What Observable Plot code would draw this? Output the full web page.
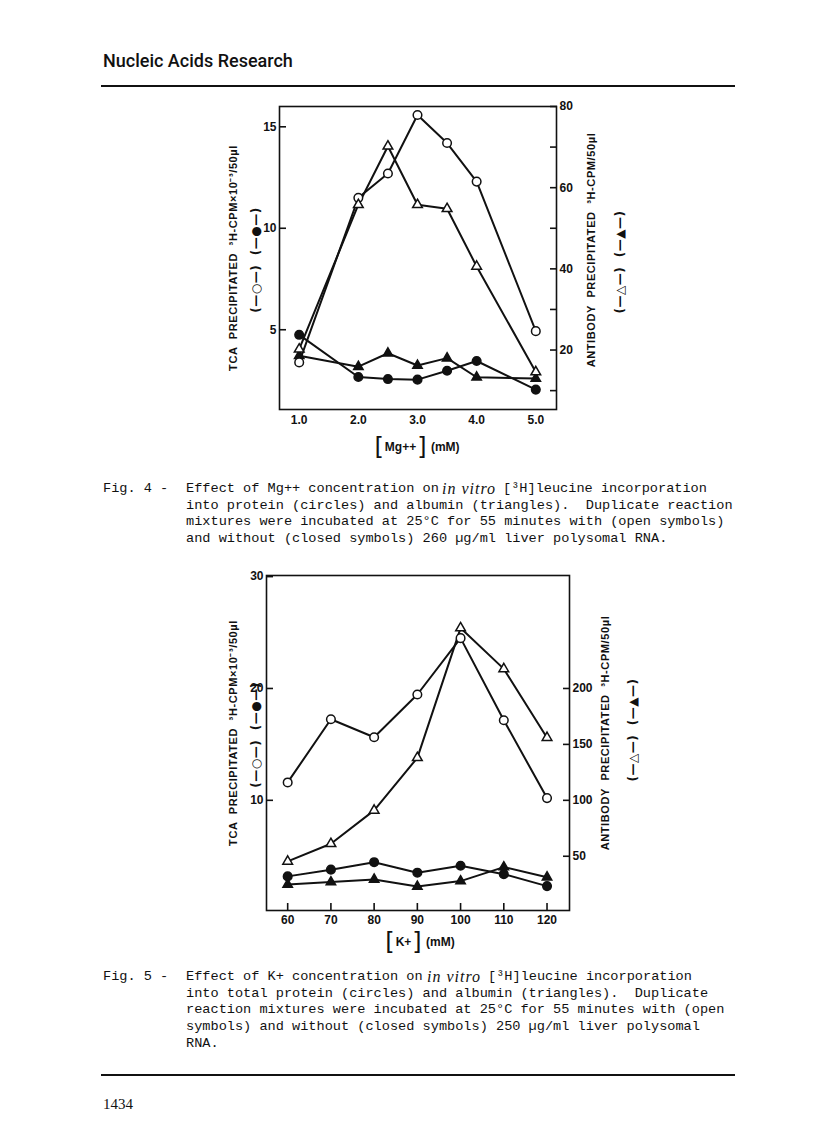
<!DOCTYPE html>
<html><head><meta charset="utf-8">
<script src="https://cdn.jsdelivr.net/npm/d3@7"></script>
<script src="https://cdn.jsdelivr.net/npm/@observablehq/plot@0.6"></script>
<style>
body{margin:0;background:#fff;}
#page{position:relative;width:816px;height:1146px;overflow:hidden;font-family:"Liberation Sans",sans-serif;color:#111;}
.abs{position:absolute;}
.rule{position:absolute;left:101px;width:634px;height:2px;background:#111;}
.cap{position:absolute;font-family:"Liberation Mono",monospace;font-size:13.6px;line-height:16.7px;white-space:pre;color:#111;}
.iv{position:absolute;font-family:"Liberation Serif",serif;font-style:italic;font-size:16px;letter-spacing:1px;line-height:16.7px;white-space:pre;color:#111;}
.rot{position:absolute;transform:translate(-50%,-50%) rotate(-90deg);white-space:nowrap;font-weight:bold;font-size:11px;letter-spacing:0.6px;word-spacing:4px;}
.sym{font-family:"DejaVu Sans",sans-serif;font-weight:bold;font-size:12px;letter-spacing:0.5px;word-spacing:5px;}
.xt{position:absolute;transform:translate(-50%,-50%);display:flex;align-items:center;gap:1px;white-space:nowrap;font-weight:bold;font-size:12px;}
.br{font-size:24px;font-weight:normal;font-family:"DejaVu Sans",sans-serif;}
.chart{position:absolute;}
</style></head>
<body><div id="page">
<div class="abs" style="left:103px;top:50px;font-family:Roboto,'Liberation Sans',sans-serif;font-weight:500;font-size:18px;">Nucleic Acids Research</div>
<div class="rule" style="top:85px;"></div>

<div id="c1" class="chart" style="left:180px;top:96px;"></div>
<div class="rot" style="left:232px;top:258px;">TCA PRECIPITATED ³H-CPM×10⁻³/50µl</div>
<div class="rot sym" style="left:256px;top:260px;">(—○—) (—●—)</div>
<div class="rot" style="left:591px;top:250px;">ANTIBODY PRECIPITATED ³H-CPM/50µl</div>
<div class="rot sym" style="left:620px;top:262px;">(—△—) (—▲—)</div>
<div class="xt" style="left:417px;top:447px;"><span class="br">[</span><span>Mg++</span><span class="br">]</span><span>&nbsp;(mM)</span></div>

<div class="cap" style="left:103px;top:481px;">Fig. 4 -</div>
<div class="cap" style="left:186px;top:481px;">Effect of Mg++ concentration on</div>
<div class="iv" style="left:442px;top:481px;">in vitro</div>
<div class="cap" style="left:503px;top:481px;">[³H]leucine incorporation</div>
<div class="cap" style="left:186px;top:497.7px;">into protein (circles) and albumin (triangles).  Duplicate reaction</div>
<div class="cap" style="left:186px;top:514.4px;">mixtures were incubated at 25°C for 55 minutes with (open symbols)</div>
<div class="cap" style="left:186px;top:531.1px;">and without (closed symbols) 260 µg/ml liver polysomal RNA.</div>

<div id="c2" class="chart" style="left:180px;top:565px;"></div>
<div class="rot" style="left:232px;top:733px;">TCA PRECIPITATED ³H-CPM×10⁻³/50µl</div>
<div class="rot sym" style="left:256px;top:735px;">(—○—) (—●—)</div>
<div class="rot" style="left:605px;top:733px;">ANTIBODY PRECIPITATED ³H-CPM/50µl</div>
<div class="rot sym" style="left:633px;top:730px;">(—△—) (—▲—)</div>
<div class="xt" style="left:420px;top:942px;"><span class="br">[</span><span>K+</span><span class="br">]</span><span>&nbsp;(mM)</span></div>

<div class="cap" style="left:103px;top:969px;">Fig. 5 -</div>
<div class="cap" style="left:186px;top:969px;">Effect of K+ concentration on</div>
<div class="iv" style="left:427px;top:969px;">in vitro</div>
<div class="cap" style="left:488px;top:969px;">[³H]leucine incorporation</div>
<div class="cap" style="left:186px;top:985.7px;">into total protein (circles) and albumin (triangles).  Duplicate</div>
<div class="cap" style="left:186px;top:1002.4px;">reaction mixtures were incubated at 25°C for 55 minutes with (open</div>
<div class="cap" style="left:186px;top:1019.1px;">symbols) and without (closed symbols) 250 µg/ml liver polysomal</div>
<div class="cap" style="left:186px;top:1035.8px;">RNA.</div>

<div class="rule" style="top:1074px;"></div>
<div class="abs" style="left:103px;top:1096px;font-family:'Liberation Serif',serif;font-size:15px;">1434</div>
</div>
<script>
// ---- Fig. 4 data (Mg++) ----
const mgX = [1.0, 2.0, 2.5, 3.0, 3.5, 4.0, 5.0];
const mgTcaOpen = [3.39, 11.5, 12.7, 15.58, 14.2, 12.3, 4.93];
const mgTcaClosed = [4.75, 2.67, 2.57, 2.54, 2.98, 3.46, 2.05];
const mgAbOpen = [20.2, 55.8, 70.2, 55.8, 54.8, 40.6, 14.6];
const mgAbClosed = [18.6, 15.9, 19.2, 16.2, 18.0, 13.3, 13.0];
const mgXTicks = [1, 2, 3, 4, 5];
const mgLeftTicks = [5, 10, 15];
const mgRightTicks = [10, 20, 30, 40, 50, 60, 70, 80];
const mgRightLabels = [20, 40, 60, 80];

// ---- Fig. 5 data (K+) ----
const kX = [60, 70, 80, 90, 100, 110, 120];
const kTcaOpen = [11.6, 17.25, 15.64, 19.46, 24.5, 17.16, 10.2];
const kTcaClosed = [3.2, 3.8, 4.47, 3.53, 4.15, 3.4, 2.33];
const kAbOpen = [45.4, 61.2, 91, 138, 254, 217.5, 156];
const kAbClosed = [24.8, 26.9, 29.3, 23, 27.8, 40.3, 31.3];
const kXTicks = [60, 70, 80, 90, 100, 110, 120];
const kLeftTicks = [10, 20, 30];
const kRightTicks = [50, 100, 150, 200];
const kRightLabels = [50, 100, 150, 200];

function makeChart(c) {
  const rows = (xs, ys, div) => xs.map((x, i) => ({x, y: ys[i] / div}));
  const tO = rows(c.x, c.tcaOpen, 1), tC = rows(c.x, c.tcaClosed, 1);
  const aO = rows(c.x, c.abOpen, c.ratio), aC = rows(c.x, c.abClosed, c.ratio);
  const lw = 2;
  return Plot.plot({
    width: c.width, height: c.height,
    marginLeft: c.ml, marginRight: c.mr, marginTop: c.mt, marginBottom: c.mb,
    x: {domain: c.xDomain},
    y: {domain: c.yDomain},
    style: {background: "transparent", color: "#111", fontFamily: "'Liberation Sans', sans-serif", overflow: "visible"},
    marks: [
      Plot.frame({stroke: "#111", strokeWidth: 1.6}),
      Plot.axisX({ticks: c.xTicks, tickFormat: c.xFormat, tickSize: c.xTickSize, tickPadding: c.xTickPadding, strokeWidth: 1.6, fontWeight: "bold", fontSize: 12, label: null}),
      Plot.axisY({anchor: "left", ticks: c.leftTicks, tickFormat: d => d, tickSize: -7, tickPadding: 10, strokeWidth: 1.6, fontWeight: "bold", fontSize: 12, label: null}),
      Plot.axisY({anchor: "right", ticks: c.rightTicks.map(v => v / c.ratio), tickFormat: d => { const v = Math.round(d * c.ratio); return c.rightLabels.includes(v) ? v : ""; }, tickSize: -7, tickPadding: 10, strokeWidth: 1.6, fontWeight: "bold", fontSize: 12, label: null}),
      Plot.line(tC, {x: "x", y: "y", stroke: "#111", strokeWidth: lw}),
      Plot.line(aC, {x: "x", y: "y", stroke: "#111", strokeWidth: lw}),
      Plot.line(tO, {x: "x", y: "y", stroke: "#111", strokeWidth: lw}),
      Plot.line(aO, {x: "x", y: "y", stroke: "#111", strokeWidth: lw}),
      Plot.dot(tC, {x: "x", y: "y", r: 4.3, fill: "#111", stroke: "#111"}),
      Plot.dot(aC, {x: "x", y: "y", r: 3.5, symbol: "triangle", fill: "#111", stroke: "#111"}),
      Plot.dot(tO, {x: "x", y: "y", r: 4.3, fill: "#fff", stroke: "#111", strokeWidth: 1.5}),
      Plot.dot(aO, {x: "x", y: "y", r: 3.6, symbol: "triangle", fill: "#fff", stroke: "#111", strokeWidth: 1.5})
    ]
  });
}

document.getElementById("c1").append(makeChart({
  x: mgX, tcaOpen: mgTcaOpen, tcaClosed: mgTcaClosed, abOpen: mgAbOpen, abClosed: mgAbClosed,
  ratio: 5, xTicks: mgXTicks, xFormat: d => d.toFixed(1), xTickSize: 0, xTickPadding: 6,
  leftTicks: mgLeftTicks, rightTicks: mgRightTicks, rightLabels: mgRightLabels,
  width: 460, height: 370, ml: 99, mr: 84, mt: 10, mb: 57,
  xDomain: [0.667, 5.35], yDomain: [1.07, 16]
}));

document.getElementById("c2").append(makeChart({
  x: kX, tcaOpen: kTcaOpen, tcaClosed: kTcaClosed, abOpen: kAbOpen, abClosed: kAbClosed,
  ratio: 10, xTicks: kXTicks, xFormat: d => d, xTickSize: -7, xTickPadding: 12,
  leftTicks: kLeftTicks, rightTicks: kRightTicks, rightLabels: kRightLabels,
  width: 460, height: 400, ml: 86, mr: 71, mt: 10, mb: 55,
  xDomain: [55.1, 125.2], yDomain: [0.15, 30.1]
}));
</script>
</body></html>
